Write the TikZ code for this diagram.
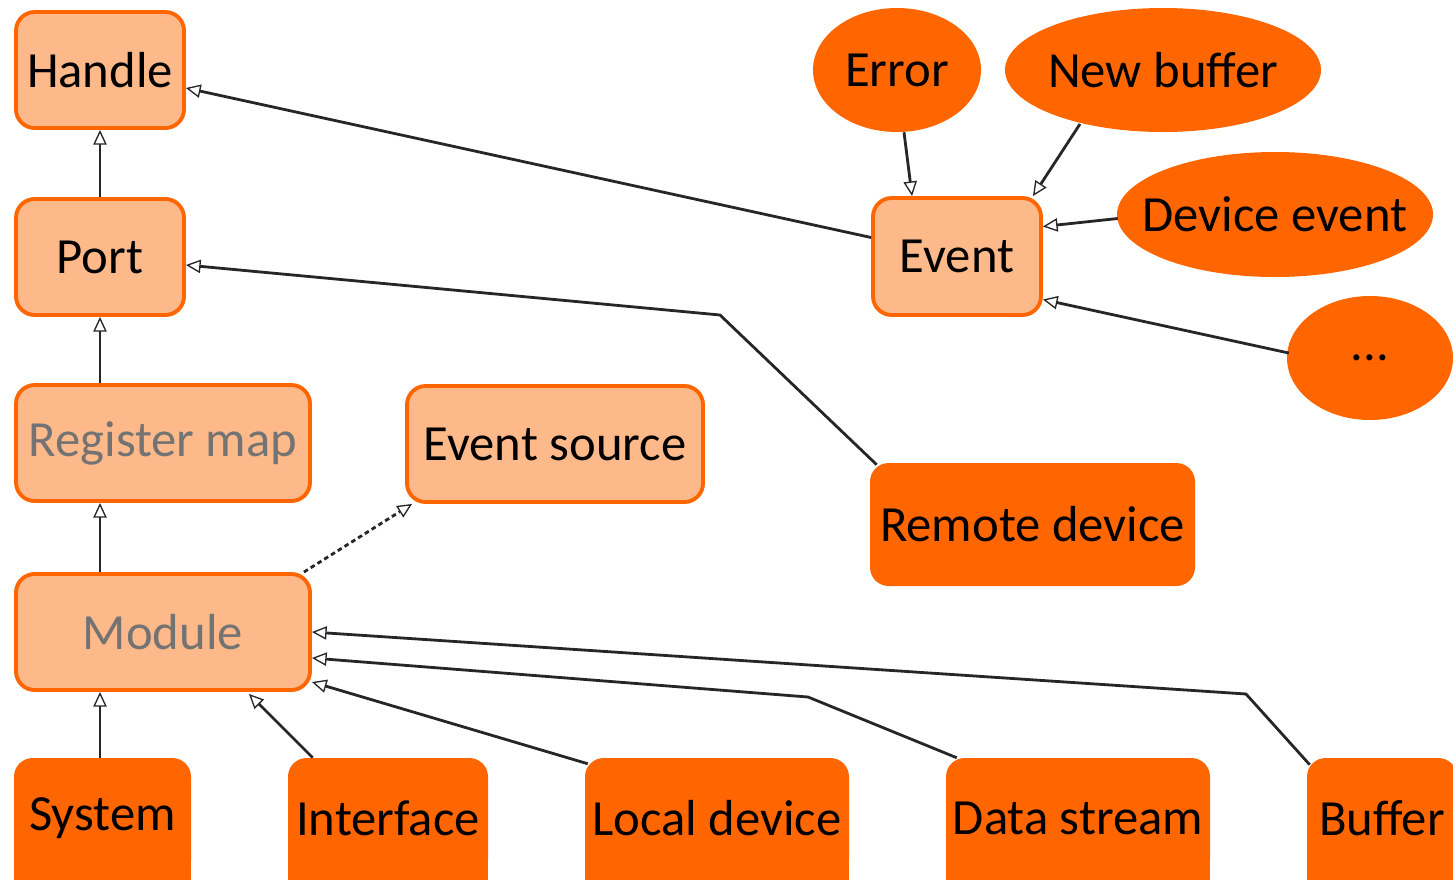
\documentclass[tikz,border=0pt]{standalone}
\usepackage{fontspec}
\setmainfont{Carlito}
\usetikzlibrary{arrows.meta,shapes.geometric,calc,backgrounds}
\definecolor{orangeline}{HTML}{FF6600}
\definecolor{orangelight}{HTML}{FDB98A}
\definecolor{labelgray}{HTML}{737373}
\begin{document}
\begin{tikzpicture}[x=0.75pt,y=-0.75pt,
  labelfont/.style={font=\fontsize{38}{45}\selectfont},
  size/.style 2 args={minimum width=#1*0.75pt, minimum height=#2*0.75pt},
  lightbox/.style={draw=orangeline, line width=2.9pt, fill=orangelight,
    rounded corners=14pt, inner sep=0pt, labelfont},
  darkbox/.style={fill=orangeline, rounded corners=14pt, inner sep=0pt, labelfont},
  oval/.style={ellipse, fill=orangeline, inner sep=0pt, labelfont},
  arr/.style={line width=2.1pt, draw=black!85,
    -{Triangle[open, length=11pt, width=10pt, line width=1pt]}},
  dashedarr/.style={arr, dash pattern=on 3.5pt off 2.5pt},
]
\clip (0,0) rectangle (1453,879);

% light (abstract) boxes
\node[lightbox, size={168}{116}] (Handle)   at (100,70)    {Handle};
\node[lightbox, size={168}{116}] (Port)     at (100,257)   {Port};
\node[lightbox, size={294}{116}, text=labelgray] (Register) at (163,443) {Register map};
\node[lightbox, size={296}{116}] (EventSrc) at (555,444)   {Event source};
\node[lightbox, size={294}{116}, text=labelgray] (Module) at (163,632) {Module};
\node[lightbox, size={168}{117}] (Event)    at (957,256.5) {Event};

% dark (concrete) boxes
\node[darkbox, size={325}{123}] (Remote)    at (1032.5,524.5) {Remote device};
\node[darkbox, size={177}{120}] (System)    at (102.5,818) {System};
\node[darkbox, size={200}{120}] (Interface) at (388,818)   {Interface};
\node[darkbox, size={264}{120}] (Local)     at (717,818)   {Local device};
\node[darkbox, size={264}{120}] (Data)      at (1078,818)  {Data stream};
\node[darkbox, size={150}{120}] (Buffer)    at (1382,818)  {Buffer};
% bottom row runs past the lower edge: square off the lower corners
\begin{pgfonlayer}{background}
\foreach \n in {System,Interface,Local,Data,Buffer}
  \fill[orangeline] (\n.west) rectangle ($(\n.south east)+(0,30)$);
\end{pgfonlayer}

% event kinds (text boxed to zero width so the ellipse keeps its size)
\node[oval, size={168}{124}] (Error)  at (897,70)     {\makebox[0pt]{Error}};
\node[oval, size={316}{124}] (NewBuf) at (1163,70)    {\makebox[0pt]{New buffer}};
\node[oval, size={316}{125}] (DevEvt) at (1275,214.5) {\makebox[0pt]{Device event}};
\node[oval, size={166}{124}] (Dots)   at (1370,358)   {\makebox[0pt]{...}};

% vertical chain
\draw[arr] (Port.north) -- (Handle.south);
\draw[arr] (Port.south |- Register.north) -- (Port.south);
\draw[arr] (Port.south |- Module.north) -- (Port.south |- Register.south);
\draw[arr] (Port.south |- System.north) -- (Port.south |- Module.south);

% into Module
\draw[arr] ($(Interface.north west)+(25,0)$) -- ($(Module.south east)+(-63,2)$);
\draw[arr] ($(Local.north west)+(3,6)$) -- ($(Module.east)+(0,50)$);
\coordinate (dsbend) at (808,697);
\draw[arr] ($(Data.north west)+(11,0)$) -- (dsbend) -- ($(Module.east)+(0,26)$);
\coordinate (bufbend) at (1246,694);
\draw[arr] ($(Buffer.north west)+(3,7)$) -- (bufbend) -- (Module.east);
\draw[dashedarr] ($(Module.north east)+(-8,0)$) -- ($(EventSrc.south west)+(7,0)$);

% into Handle and Port
\draw[arr] ($(Event.west)+(0,-19)$) -- ($(Handle.east)+(0,18)$);
\coordinate (rdbend) at (720,315);
\draw[arr] ($(Remote.north west)+(7,2)$) -- (rdbend) -- ($(Port.east)+(0,8)$);

% into Event
\draw[arr] ($(Error.south)+(7,0)$) -- ($(Event.north west)+(41,0)$);
\draw[arr] ($(NewBuf.center)+(-83,54)$) -- ($(Event.north east)+(-10,0)$);
\draw[arr] ($(DevEvt.west)+(1,4)$) -- ($(Event.east)+(0,-30)$);
\draw[arr] ($(Dots.west)+(2,-5)$) -- ($(Event.east)+(0,43)$);
\end{tikzpicture}
\end{document}
